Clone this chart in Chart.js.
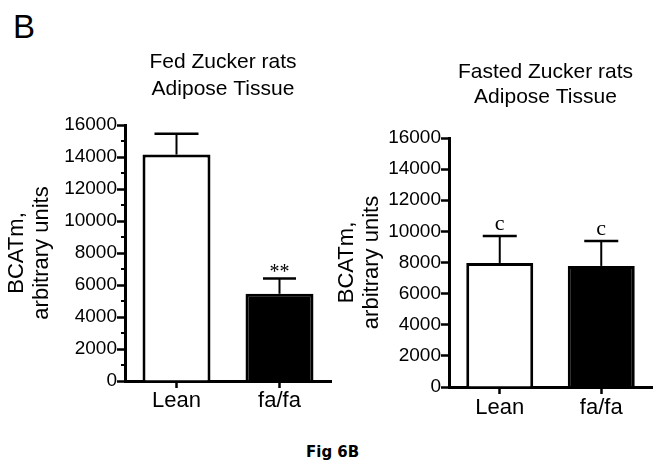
<!DOCTYPE html>
<html lang="en">
<head>
<meta charset="UTF-8">
<title>Fig 6B</title>
<script src="https://cdn.jsdelivr.net/npm/chart.js@4.4.0/dist/chart.umd.min.js"></script>
<style>
  body { margin: 0; background: #fff; }
  .page { position: relative; width: 662px; height: 470px; overflow: hidden; background: #fff; }
  canvas { position: absolute; top: 0; }
  #fedChart { left: 0; }
  #fastedChart { left: 331px; }
  .letter {
    position: absolute; left: 13px; top: 10px;
    font: 33px/33px "Liberation Sans", Arial, sans-serif; color: #000;
  }
  .caption {
    position: absolute; left: 306px; top: 445px;
    font: bold 15px/15px "DejaVu Sans", Verdana, sans-serif; color: #000;
  }
</style>
</head>
<body>
<div class="page">
  <div class="letter">B</div>
  <canvas id="fedChart" width="336" height="430"></canvas>
  <canvas id="fastedChart" width="331" height="430"></canvas>
  <div class="caption">Fig 6B</div>
</div>

<script>
  // categories and values
  const groups = ['Lean', 'fa/fa'];
  const fedMeans = [14150, 5450];
  const fedErrors = [1300, 950];
  const fedMarks = ['', '**'];
  const fastedMeans = [7970, 7780];
  const fastedErrors = [1730, 1600];
  const fastedMarks = ['c', 'c'];
  const yTicks = [0, 2000, 4000, 6000, 8000, 10000, 12000, 14000, 16000];
  const yMinorTicks = [1000, 3000, 5000, 7000, 9000, 11000, 13000, 15000];
  const yTitle = ['BCATm,', 'arbitrary units'];

  Chart.defaults.font.family = '"Liberation Sans", Arial, sans-serif';
  Chart.defaults.color = '#000';

  // error bars, significance marks, minor ticks and the panel title
  const panelExtras = {
    id: 'panelExtras',
    afterDraw(chart, args, o) {
      const { ctx, chartArea } = chart;
      const y = chart.scales.y;
      const meta = chart.getDatasetMeta(0);
      ctx.save();
      ctx.strokeStyle = '#000';
      ctx.fillStyle = '#000';

      o.minorTicks.forEach(v => {
        const py = Math.round(y.getPixelForValue(v));
        ctx.lineWidth = 2;
        ctx.beginPath();
        ctx.moveTo(chartArea.left - o.minorLen, py);
        ctx.lineTo(chartArea.left, py);
        ctx.stroke();
      });

      o.errors.forEach((e, i) => {
        const bar = meta.data[i];
        const capY = y.getPixelForValue(o.means[i] + e);
        ctx.lineWidth = 2;
        ctx.beginPath();
        ctx.moveTo(bar.x, bar.y);
        ctx.lineTo(bar.x, capY);
        ctx.stroke();
        ctx.lineWidth = 2.5;
        ctx.beginPath();
        ctx.moveTo(bar.x - o.capWidths[i] / 2, capY);
        ctx.lineTo(bar.x + o.capWidths[i] / 2, capY);
        ctx.stroke();

        const mark = o.marks[i];
        if (mark) {
          ctx.font = (mark === 'c' ? '22px' : '20px') + ' "Liberation Serif", "Times New Roman", serif';
          ctx.textAlign = 'center';
          ctx.textBaseline = 'alphabetic';
          ctx.fillText(mark, bar.x, capY - (mark === 'c' ? 6 : 1));
        }
      });

      ctx.font = '21px "Liberation Sans", Arial, sans-serif';
      ctx.textAlign = 'center';
      ctx.textBaseline = 'middle';
      const cx = (chartArea.left + chartArea.right) / 2 + o.titleShift;
      o.title.forEach((line, i) => {
        ctx.fillText(line, cx, chartArea.top + o.titleY[i]);
      });
      ctx.restore();
    }
  };

  function makePanel(id, means, errors, marks, cfg) {
    return new Chart(document.getElementById(id), {
      type: 'bar',
      data: {
        labels: groups,
        datasets: [{
          data: means,
          backgroundColor: ['#ffffff', '#000000'],
          borderColor: '#000',
          borderWidth: 3,
          barPercentage: 0.66,
          categoryPercentage: 1
        }]
      },
      options: {
        responsive: false,
        animation: false,
        layout: { padding: { top: cfg.top, right: cfg.right, left: 0, bottom: 0 } },
        plugins: {
          legend: { display: false },
          tooltip: { enabled: false },
          panelExtras: {
            means: means,
            errors: errors,
            marks: marks,
            capWidths: cfg.capWidths,
            minorTicks: cfg.minorTicks,
            minorLen: 4,
            title: cfg.title,
            titleY: cfg.titleY,
            titleShift: -5
          }
        },
        scales: {
          x: {
            offset: true,
            ticks: { font: { size: 22 }, padding: cfg.xPad, color: '#000' },
            grid: { drawOnChartArea: false, offset: false, tickLength: 7, tickWidth: 2.5, tickColor: '#000' },
            border: { width: 3, color: '#000' },
            afterFit: s => { s.height = cfg.xHeight; }
          },
          y: {
            min: 0,
            max: 16000,
            afterBuildTicks: s => { s.ticks = yTicks.map(v => ({ value: v })); },
            ticks: { font: { size: 19 }, padding: 0, color: '#000', callback: v => String(v) },
            grid: { drawOnChartArea: false, tickLength: 8, tickWidth: 2.5, tickColor: '#000' },
            border: { width: 3, color: '#000' },
            title: {
              display: true,
              text: yTitle,
              font: { size: 22, lineHeight: 1.11 },
              padding: { top: cfg.titlePad, bottom: 0 },
              color: '#000'
            },
            afterFit: s => { s.width = cfg.yWidth; }
          }
        }
      },
      plugins: [panelExtras]
    });
  }

  makePanel('fedChart', fedMeans, fedErrors, fedMarks, {
    top: 125, right: 5, yWidth: 125, xHeight: 49, xPad: 0, titlePad: 5,
    capWidths: [44, 33], minorTicks: yMinorTicks,
    title: ['Fed Zucker rats', 'Adipose Tissue'], titleY: [-63, -36]
  });

  makePanel('fastedChart', fastedMeans, fastedErrors, fastedMarks, {
    top: 138, right: 10, yWidth: 118, xHeight: 43, xPad: 1, titlePad: 4,
    capWidths: [34, 34], minorTicks: [],
    title: ['Fasted Zucker rats', 'Adipose Tissue'], titleY: [-66, -41]
  });
</script>
</body>
</html>
